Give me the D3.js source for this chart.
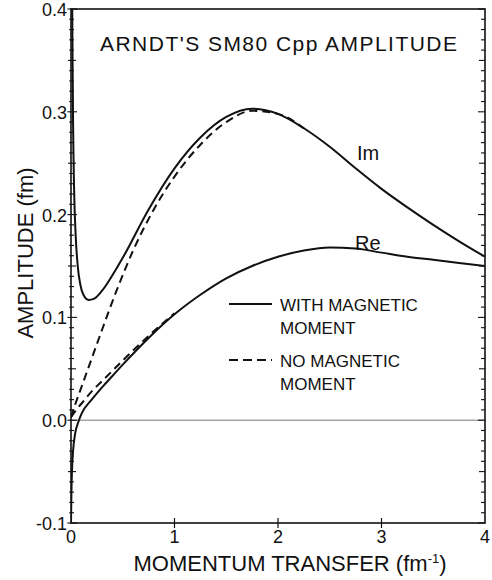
<!DOCTYPE html>
<html>
<head>
<meta charset="utf-8">
<script src="https://d3js.org/d3.v7.min.js"></script>
<style>
  body { margin: 0; background: #fff; }
  text { font-family: "Liberation Sans", Arial, sans-serif; fill: #111; }
</style>
</head>
<body>
<div id="chart"></div>
<script>
// momentum transfer q (fm^-1) and amplitude (fm)
var imWith = [[0.012,0.40],[0.016,0.34],[0.02,0.29],[0.03,0.225],[0.045,0.18],[0.065,0.15],
  [0.09,0.132],[0.12,0.122],[0.17,0.117],[0.22,0.118],[0.3,0.126],[0.4,0.141],[0.5,0.158],
  [0.75,0.205],[1.0,0.245],[1.25,0.275],[1.5,0.295],[1.75,0.303],[2.0,0.298],[2.25,0.284],
  [2.5,0.266],[2.75,0.245],[3.0,0.225],[3.25,0.207],[3.5,0.190],[3.75,0.174],[4.0,0.159]];
var imNo = [[0,0.003],[0.05,0.018],[0.1,0.032],[0.2,0.06],[0.3,0.088],[0.44,0.126],[0.6,0.165],
  [0.8,0.205],[1.0,0.237],[1.25,0.268],[1.5,0.290],[1.75,0.301],[2.0,0.298],[2.25,0.284]];
var reWith = [[0,-0.1],[0.004,-0.07],[0.01,-0.048],[0.02,-0.03],[0.04,-0.013],[0.07,-0.002],
  [0.1,0.006],[0.2,0.02],[0.3,0.032],[0.4,0.043],[0.5,0.054],[0.75,0.08],[1.0,0.103],
  [1.25,0.122],[1.5,0.138],[1.75,0.150],[2.0,0.159],[2.25,0.165],[2.5,0.168],[2.75,0.167],
  [3.0,0.163],[3.25,0.159],[3.5,0.156],[3.75,0.153],[4.0,0.150]];
var reNo = [[0,0.003],[0.05,0.01],[0.1,0.016],[0.2,0.028],[0.31,0.039],[0.5,0.058],
  [0.75,0.082],[1.0,0.104]];

var xTicks = [0, 1, 2, 3, 4];
var yTicks = [0.4, 0.3, 0.2, 0.1, 0.0, -0.1];
var title = "ARNDT'S SM80 Cpp AMPLITUDE";
var legendLabels = [["WITH MAGNETIC", "MOMENT"], ["NO MAGNETIC", "MOMENT"]];

var W = 492, H = 580;
var margin = {top: 9, right: 7, bottom: 57, left: 71};
var width = W - margin.left - margin.right,
    height = H - margin.top - margin.bottom;

var svg = d3.select("#chart").append("svg")
    .attr("width", W).attr("height", H);
var g = svg.append("g")
    .attr("transform", "translate(" + margin.left + "," + margin.top + ")");

var x = d3.scaleLinear().domain([0, 4]).range([0, width]);
var y = d3.scaleLinear().domain([-0.1, 0.4]).range([height, 0]);

g.append("defs").append("clipPath").attr("id", "clip")
  .append("rect").attr("width", width).attr("height", height);

// zero line
g.append("line")
  .attr("x1", 0).attr("x2", width)
  .attr("y1", y(0)).attr("y2", y(0))
  .attr("stroke", "#777").attr("stroke-width", 1);

// frame
g.append("rect").attr("width", width).attr("height", height)
  .attr("fill", "none").attr("stroke", "#111").attr("stroke-width", 1.6);

// minor ticks on left and right axes
var minor = d3.range(-10, 41).map(function(d) { return d / 100; });
minor.forEach(function(v) {
  var k = Math.round(v * 100);
  var len = k % 10 === 0 ? 6 : (k % 5 === 0 ? 5 : 3);
  g.append("line").attr("x1", -len * 0.6).attr("x2", len)
    .attr("y1", y(v)).attr("y2", y(v))
    .attr("stroke", "#111").attr("stroke-width", 1.1);
  g.append("line").attr("x1", width - len - 1).attr("x2", width)
    .attr("y1", y(v)).attr("y2", y(v))
    .attr("stroke", "#111").attr("stroke-width", 1.1);
});

// x axis ticks and labels
xTicks.forEach(function(t) {
  if (t > 0 && t < 4) {
    g.append("line").attr("x1", x(t)).attr("x2", x(t))
      .attr("y1", height - 5).attr("y2", height + 5)
      .attr("stroke", "#111").attr("stroke-width", 1.2);
  }
  g.append("text").attr("x", x(t)).attr("y", height + 20)
    .attr("text-anchor", "middle").style("font-size", "18px").text(t);
});

// y axis labels
yTicks.forEach(function(t) {
  g.append("text").attr("x", -4).attr("y", y(t) + 7)
    .attr("text-anchor", "end").style("font-size", "18px")
    .text(t.toFixed(1));
});

// axis titles
var xt = svg.append("text").attr("x", 290).attr("y", 571)
  .attr("text-anchor", "middle").style("font-size", "22px")
  .text("MOMENTUM TRANSFER (fm");
xt.append("tspan").attr("dy", -8).style("font-size", "13px").text("-1");
xt.append("tspan").attr("dy", 8).text(")");

svg.append("text")
  .attr("transform", "translate(33,253) rotate(-90)")
  .attr("text-anchor", "middle").style("font-size", "22px")
  .text("AMPLITUDE (fm)");

// title
svg.append("text").attr("x", 100).attr("y", 51)
  .style("font-size", "21px")
  .attr("textLength", 357).attr("lengthAdjust", "spacing")
  .text(title);

// curves
var line = d3.line()
  .x(function(d) { return x(d[0]); })
  .y(function(d) { return y(d[1]); })
  .curve(d3.curveMonotoneX);

var curves = g.append("g").attr("clip-path", "url(#clip)");
[imWith, reWith].forEach(function(s) {
  curves.append("path").datum(s).attr("d", line)
    .attr("fill", "none").attr("stroke", "#111").attr("stroke-width", 2);
});
[imNo, reNo].forEach(function(s) {
  curves.append("path").datum(s).attr("d", line)
    .attr("fill", "none").attr("stroke", "#111").attr("stroke-width", 2)
    .attr("stroke-dasharray", "8,5");
});

// curve labels
svg.append("text").attr("x", 357).attr("y", 160).style("font-size", "20px").text("Im");
svg.append("text").attr("x", 355).attr("y", 250).style("font-size", "20px").text("Re");

// legend
var leg = svg.append("g");
legendLabels.forEach(function(lbl, i) {
  var ly = 304 + i * 56;
  leg.append("line").attr("x1", 229).attr("x2", 272)
    .attr("y1", ly).attr("y2", ly)
    .attr("stroke", "#111").attr("stroke-width", 2)
    .attr("stroke-dasharray", i === 1 ? "9,5" : null);
  leg.append("text").attr("x", 280).attr("y", ly + 7)
    .style("font-size", "17px").text(lbl[0]);
  leg.append("text").attr("x", 280).attr("y", ly + 30)
    .style("font-size", "17px").text(lbl[1]);
});
</script>
</body>
</html>
